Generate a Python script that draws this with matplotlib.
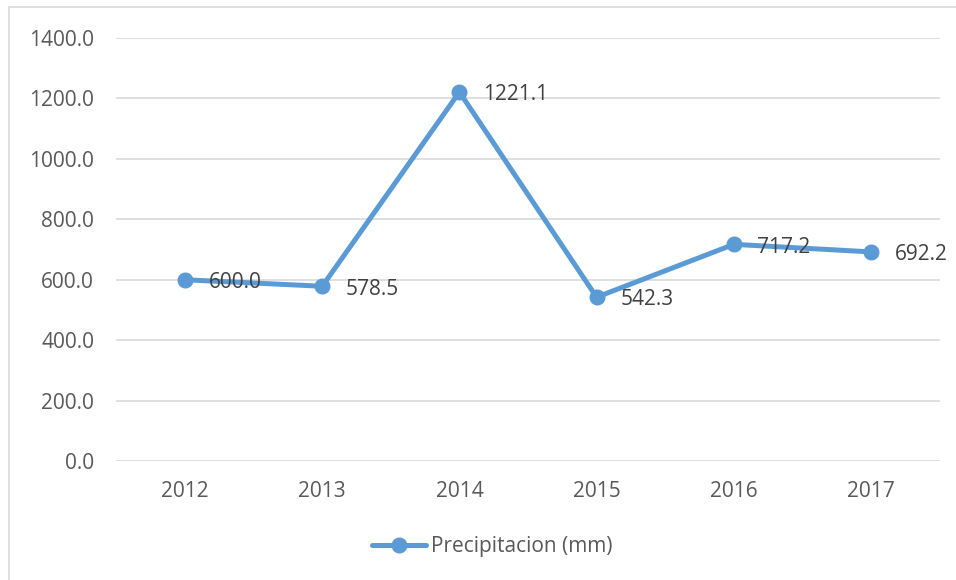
import numpy as np
import matplotlib.pyplot as plt
from matplotlib.patches import Rectangle

years = ['2012', '2013', '2014', '2015', '2016', '2017']
precip = [600.0, 578.5, 1221.1, 542.3, 717.2, 692.2]
yticks = [0, 200, 400, 600, 800, 1000, 1200, 1400]

blue = '#5B9BD5'
txt = '#595959'

plt.rcParams['font.family'] = ['Open Sans', 'DejaVu Sans']

fig = plt.figure(figsize=(9.56, 5.8), dpi=100)
ax = fig.add_axes([0.1218, 0.205, 0.861, 0.7295])

x = np.arange(len(years))
ax.plot(x, precip, color=blue, lw=3.6, marker='o', ms=10.5, label='Precipitacion (mm)',
        solid_capstyle='round', zorder=3)
for xi, v in zip(x, precip):
    ax.annotate(f'{v:.1f}', (xi, v), xytext=(17, -2), textcoords='offset points',
                ha='left', va='center', fontsize=15, color='#404040', zorder=4)

ax.set_xlim(-0.5, len(years) - 0.5)
ax.set_ylim(0, 1400)
ax.set_xticks(x)
ax.set_xticklabels(years)
ax.set_yticks(yticks)
ax.set_yticklabels([f'{t:.1f}' for t in yticks])
ax.tick_params(length=0, labelsize=15, colors=txt)
ax.tick_params(axis='y', pad=16)
ax.tick_params(axis='x', pad=14)
ax.grid(axis='y', color='#D9D9D9', lw=1.2)
ax.set_axisbelow(True)
for s in ax.spines.values():
    s.set_visible(False)

leg = fig.legend(loc='center', bbox_to_anchor=(0.515, 0.057), frameon=False,
                 fontsize=15, handlelength=2.55, handletextpad=0.25)
for t in leg.get_texts():
    t.set_color(txt)

fig.patches.append(Rectangle((9 / 956, -0.1), 1.2, 1 - 7 / 580 + 0.1, transform=fig.transFigure,
                             fill=False, edgecolor='#D9D9D9', lw=1.2, zorder=0))

fig.savefig('out.png', dpi=100)
